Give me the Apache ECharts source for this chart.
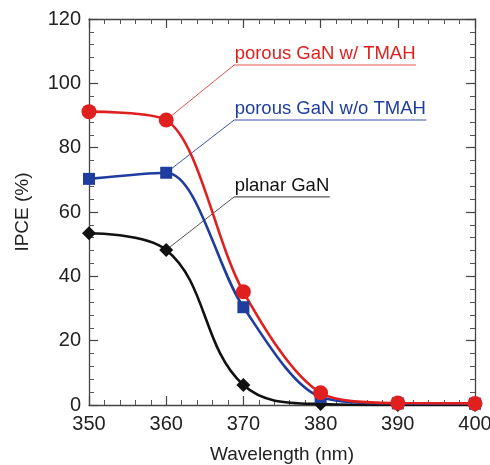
<!DOCTYPE html>
<html>
<head>
<meta charset="utf-8">
<script src="https://cdn.jsdelivr.net/npm/echarts@6/dist/echarts.min.js"></script>
<style>
html,body{margin:0;padding:0;background:#fff;}
#chart{width:490px;height:465px;}
</style>
</head>
<body>
<div id="chart"></div>
<script>
// ---- data ----
const wavelengths = [350, 360, 370, 380, 390, 400];
const porousWithTMAH = [91.2, 88.6, 35.2, 3.8, 0.6, 0.5];
const porousWithoutTMAH = [70.3, 72.2, 30.4, 2.5, 0.5, 0.4];
const planarGaN = [53.4, 48.2, 6.2, 0.3, 0.0, 0.0];
const seriesNames = ['porous GaN w/ TMAH', 'porous GaN w/o TMAH', 'planar GaN'];
const xTicks = [350, 360, 370, 380, 390, 400];
const yTicks = [0, 20, 40, 60, 80, 100, 120];
// annotation anchors (data space) where leader lines meet the underlined labels
const labelAnchorX = 368.8;
const labelAnchorY = [105.7, 88.6, 64.7];
const leaderFromIndex = 1; // leaders start at the 360 nm markers

const colors = ['#e0201e', '#1f3d9e', '#111111'];
const leaderColors = ['#e8504e', '#3a55b0', '#555555'];
const FONT = 'Liberation Sans, Arial, Helvetica, sans-serif';

const chart = echarts.init(document.getElementById('chart'), null, {renderer: 'canvas'});

function pairs(ys) { return wavelengths.map((x, i) => [x, ys[i]]); }

const axisLineStyle = {color: '#444', width: 1.3};
function xAxisDef(pos, showLabel) {
  return {
    type: 'value', position: pos, min: xTicks[0], max: xTicks[xTicks.length - 1], interval: 10,
    axisLine: {show: true, onZero: false, lineStyle: axisLineStyle},
    axisTick: {show: true, inside: true, length: 9, lineStyle: {color: '#444', width: 1.2}},
    minorTick: {show: true, splitNumber: 5, length: 5, lineStyle: {color: '#555', width: 1}},
    axisLabel: {show: showLabel, fontSize: 20, fontFamily: FONT, color: '#222', margin: 9},
    splitLine: {show: false},
    name: showLabel ? 'Wavelength (nm)' : '', nameLocation: 'middle', nameGap: 40,
    nameTextStyle: {fontSize: 19, fontFamily: FONT, color: '#222'}
  };
}
function yAxisDef(pos, showLabel) {
  return {
    type: 'value', position: pos, min: yTicks[0], max: yTicks[yTicks.length - 1], interval: 20,
    axisLine: {show: true, onZero: false, lineStyle: axisLineStyle},
    axisTick: {show: true, inside: true, length: 9, lineStyle: {color: '#444', width: 1.2}},
    minorTick: {show: true, splitNumber: 5, length: 5, lineStyle: {color: '#555', width: 1}},
    axisLabel: {show: showLabel, fontSize: 20, fontFamily: FONT, color: '#222', margin: 8},
    splitLine: {show: false},
    name: showLabel ? 'IPCE (%)' : '', nameLocation: 'middle', nameGap: 57, nameRotate: 90,
    nameTextStyle: {fontSize: 19, fontFamily: FONT, color: '#222'}
  };
}

function lineSeries(name, ys, color, symbol, size, smooth) {
  return {
    name: name, type: 'line', data: pairs(ys), smooth: smooth,
    xAxisIndex: 0, yAxisIndex: 0,
    symbol: symbol, symbolSize: size, showSymbol: true,
    lineStyle: {color: color, width: 2.6},
    itemStyle: {color: color, borderWidth: 0},
    emphasis: {disabled: true}, z: 3
  };
}

const option = {
  animation: false,
  backgroundColor: '#ffffff',
  grid: {left: 89, right: 15, top: 19, bottom: 60, containLabel: false, outerBoundsMode: 'none'},
  xAxis: [xAxisDef('bottom', true), xAxisDef('top', false)],
  yAxis: [yAxisDef('left', true), yAxisDef('right', false)],
  series: [
    lineSeries(seriesNames[2], planarGaN, colors[2], 'diamond', 14, 0.4),
    lineSeries(seriesNames[1], porousWithoutTMAH, colors[1], 'rect', 12, 0.3),
    lineSeries(seriesNames[0], porousWithTMAH, colors[0], 'circle', 15, 0.3)
  ]
};
chart.setOption(option);

// ---- annotations (leaders + underlined labels) ----
const seriesData = [porousWithTMAH, porousWithoutTMAH, planarGaN];
const ctx = document.createElement('canvas').getContext('2d');
const fontSize = 18.5;
ctx.font = fontSize + 'px ' + FONT;
const graphics = [];
seriesData.forEach((ys, k) => {
  const p0 = chart.convertToPixel({xAxisIndex: 0, yAxisIndex: 0}, [wavelengths[leaderFromIndex], ys[leaderFromIndex]]);
  const p1 = chart.convertToPixel({xAxisIndex: 0, yAxisIndex: 0}, [labelAnchorX, labelAnchorY[k]]);
  const w = ctx.measureText(seriesNames[k]).width;
  graphics.push({
    type: 'polyline', z: 2,
    shape: {points: [p0, p1]},
    style: {stroke: leaderColors[k], lineWidth: 1, fill: null}
  });
  graphics.push({
    type: 'polyline', z: 2,
    shape: {points: [[p1[0], p1[1]], [p1[0] + w + 1, p1[1]]]},
    style: {stroke: leaderColors[k], lineWidth: 1.2, fill: null}
  });
  graphics.push({
    type: 'text', z: 4,
    x: p1[0] + 0.5, y: p1[1] - 1.5,
    style: {text: seriesNames[k], fill: colors[k], font: fontSize + 'px ' + FONT,
            textAlign: 'left', textVerticalAlign: 'bottom'}
  });
});
chart.setOption({graphic: graphics});
</script>
</body>
</html>
